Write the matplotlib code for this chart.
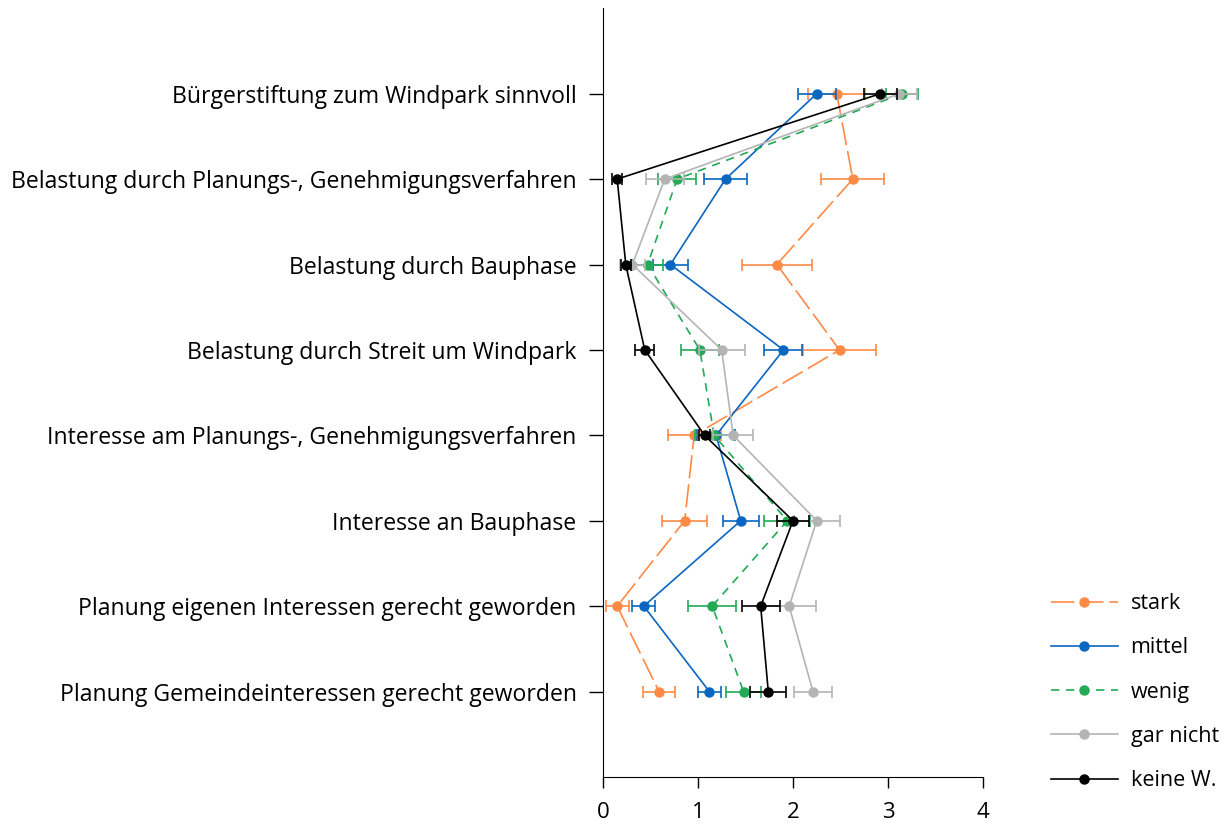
import numpy as np
import matplotlib.pyplot as plt

plt.rcParams['font.family'] = ['Open Sans', 'DejaVu Sans']

categories = [
    'Bürgerstiftung zum Windpark sinnvoll',
    'Belastung durch Planungs-, Genehmigungsverfahren',
    'Belastung durch Bauphase',
    'Belastung durch Streit um Windpark',
    'Interesse am Planungs-, Genehmigungsverfahren',
    'Interesse an Bauphase',
    'Planung eigenen Interessen gerecht geworden',
    'Planung Gemeindeinteressen gerecht geworden',
]

stark = [2.46, 2.63, 1.83, 2.49, 0.96, 0.86, 0.15, 0.59]
stark_err = [0.30, 0.33, 0.37, 0.38, 0.28, 0.24, 0.12, 0.17]
mittel = [2.25, 1.29, 0.71, 1.90, 1.19, 1.45, 0.43, 1.12]
mittel_err = [0.20, 0.23, 0.18, 0.20, 0.20, 0.19, 0.12, 0.12]
wenig = [3.15, 0.78, 0.47, 1.02, 1.17, 1.94, 1.15, 1.48]
wenig_err = [0.17, 0.20, 0.16, 0.20, 0.20, 0.24, 0.25, 0.18]
gar_nicht = [3.12, 0.65, 0.31, 1.25, 1.37, 2.25, 1.96, 2.21]
gar_nicht_err = [0.18, 0.20, 0.13, 0.24, 0.21, 0.24, 0.28, 0.20]
keine = [2.92, 0.15, 0.24, 0.44, 1.07, 2.00, 1.66, 1.74]
keine_err = [0.17, 0.05, 0.05, 0.10, 0.06, 0.17, 0.20, 0.19]

series = [
    ('stark', stark, stark_err, '#ff8a45', (0, (14, 3.5))),
    ('mittel', mittel, mittel_err, '#0a66c0', '-'),
    ('wenig', wenig, wenig_err, '#22aa55', (0, (5, 4))),
    ('gar nicht', gar_nicht, gar_nicht_err, '#b4b4b4', '-'),
    ('keine W.', keine, keine_err, '#000000', '-'),
]

fig = plt.figure(figsize=(12.28, 8.27), dpi=100)
ax = fig.add_axes([0.491, 0.0605, 0.3095, 0.9295])

y = np.arange(len(categories))
handles = []
for name, vals, err, col, ls in series:
    ax.errorbar(vals, y, xerr=err, fmt='none', ecolor=col, elinewidth=1.4,
                capsize=4.5, capthick=1.4, alpha=0.85)
    h, = ax.plot(vals, y, color=col, linestyle=ls, linewidth=1.2,
                 marker='o', markersize=6.5, label=name)
    handles.append(h)

ax.set_xlim(0, 4)
ax.set_ylim(len(categories), -1)
ax.set_xticks([0, 1, 2, 3, 4])
ax.set_yticks(y)
ax.set_yticklabels(categories)
ax.spines['top'].set_visible(False)
ax.spines['right'].set_visible(False)
ax.tick_params(axis='y', length=10, width=1, pad=9, labelsize=16.6)
ax.tick_params(axis='x', length=8, width=1, pad=10, labelsize=16)

fig.legend(handles=handles, loc='lower left', bbox_to_anchor=(0.84, 0.02),
           frameon=False, fontsize=15.5, labelspacing=1.08, handlelength=3.1,
           handletextpad=0.6)

fig.savefig('out.png')
